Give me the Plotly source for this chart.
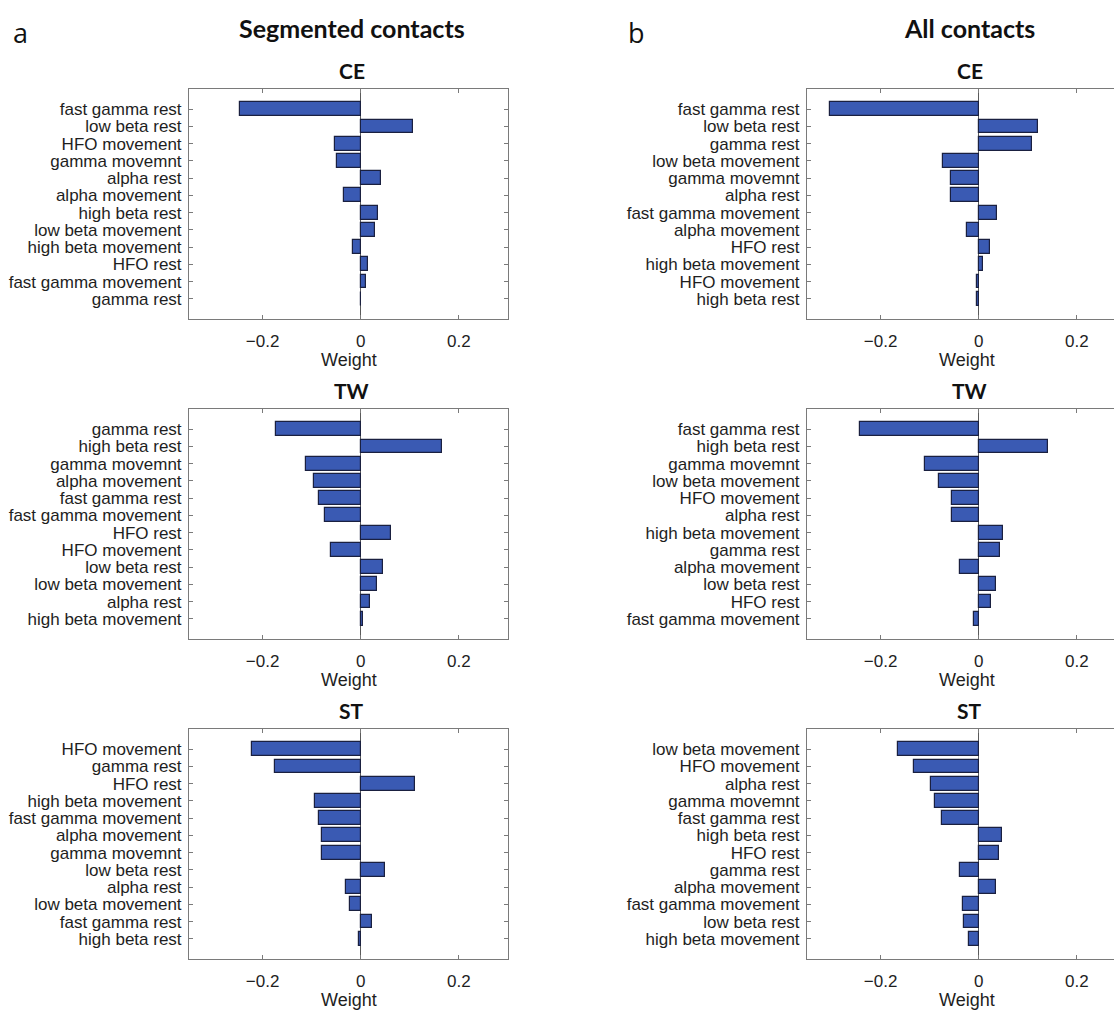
import plotly.graph_objects as go

# ---------------- data ----------------
seg_ce_labels = ["fast gamma rest", "low beta rest", "HFO movement", "gamma movemnt",
                 "alpha rest", "alpha movement", "high beta rest", "low beta movement",
                 "high beta movement", "HFO rest", "fast gamma movement", "gamma rest"]
seg_ce_weights = [-0.246, 0.107, -0.052, -0.048, 0.042, -0.034, 0.035, 0.030,
                  -0.015, 0.014, 0.010, 0.001]

seg_tw_labels = ["gamma rest", "high beta rest", "gamma movemnt", "alpha movement",
                 "fast gamma rest", "fast gamma movement", "HFO rest", "HFO movement",
                 "low beta rest", "low beta movement", "alpha rest", "high beta movement"]
seg_tw_weights = [-0.172, 0.165, -0.112, -0.096, -0.086, -0.072, 0.061, -0.061,
                  0.045, 0.033, 0.018, 0.004]

seg_st_labels = ["HFO movement", "gamma rest", "HFO rest", "high beta movement",
                 "fast gamma movement", "alpha movement", "gamma movemnt", "low beta rest",
                 "alpha rest", "low beta movement", "fast gamma rest", "high beta rest"]
seg_st_weights = [-0.221, -0.175, 0.110, -0.094, -0.086, -0.080, -0.078, 0.050,
                  -0.031, -0.022, 0.022, -0.003]

all_ce_labels = ["fast gamma rest", "low beta rest", "gamma rest", "low beta movement",
                 "gamma movemnt", "alpha rest", "fast gamma movement", "alpha movement",
                 "HFO rest", "high beta movement", "HFO movement", "high beta rest"]
all_ce_weights = [-0.303, 0.120, 0.109, -0.073, -0.057, -0.056, 0.037, -0.023,
                  0.022, 0.009, -0.004, -0.003]

all_tw_labels = ["fast gamma rest", "high beta rest", "gamma movemnt", "low beta movement",
                 "HFO movement", "alpha rest", "high beta movement", "gamma rest",
                 "alpha movement", "low beta rest", "HFO rest", "fast gamma movement"]
all_tw_weights = [-0.241, 0.141, -0.110, -0.082, -0.055, -0.054, 0.050, 0.043,
                  -0.038, 0.035, 0.025, -0.009]

all_st_labels = ["low beta movement", "HFO movement", "alpha rest", "gamma movemnt",
                 "fast gamma rest", "high beta rest", "HFO rest", "gamma rest",
                 "alpha movement", "fast gamma movement", "low beta rest", "high beta movement"]
all_st_weights = [-0.165, -0.133, -0.097, -0.090, -0.075, 0.047, 0.041, -0.038,
                  0.036, -0.033, -0.031, -0.019]

x_tick_values = [-0.2, 0, 0.2]
x_tick_labels = ["\u22120.2", "0", "0.2"]
panel_titles = ["CE", "TW", "ST"]
column_titles = ["Segmented contacts", "All contacts"]
column_letters = ["a", "b"]
x_axis_title = "Weight"

# ---------------- layout geometry (pixels) ----------------
W, H = 1130, 1012
col_left = [189, 807]
col_right = [508, 1126]
row_top = [89, 409, 729]
box_h = 230

BAR_FILL = "#3A5AB3"
BAR_EDGE = "#1A2040"
AXIS_COL = "#7a7a7a"
TEXT_COL = "#1e1e1e"
TICK_FONT = dict(family="Liberation Sans, Arial, sans-serif", size=17, color=TEXT_COL)
TITLE_FAMILY = "Lato, Open Sans, sans-serif"

panels = [
    (0, 0, seg_ce_labels, seg_ce_weights),
    (0, 1, seg_tw_labels, seg_tw_weights),
    (0, 2, seg_st_labels, seg_st_weights),
    (1, 0, all_ce_labels, all_ce_weights),
    (1, 1, all_tw_labels, all_tw_weights),
    (1, 2, all_st_labels, all_st_weights),
]

fig = go.Figure()
annotations = []
layout_axes = {}

for i, (col, row, labels, weights) in enumerate(panels, start=1):
    xa = "x" if i == 1 else f"x{i}"
    ya = "y" if i == 1 else f"y{i}"
    positions = list(range(1, len(labels) + 1))
    fig.add_trace(go.Bar(
        x=weights, y=positions, orientation="h", width=0.8,
        marker=dict(color=BAR_FILL, line=dict(color=BAR_EDGE, width=1.2)),
        xaxis=xa, yaxis=ya, showlegend=False,
        customdata=labels, hovertemplate="%{customdata}: %{x}<extra></extra>",
    ))
    top = row_top[row]
    bottom = top + box_h
    xdom = [col_left[col] / W, col_right[col] / W]
    ydom = [1 - bottom / H, 1 - top / H]
    layout_axes["xaxis" if i == 1 else f"xaxis{i}"] = dict(
        domain=xdom, anchor=ya, range=[-0.35, 0.3],
        tickmode="array", tickvals=x_tick_values, ticktext=x_tick_labels,
        ticks="inside", ticklen=4, tickwidth=1, tickcolor=AXIS_COL,
        showline=True, linecolor=AXIS_COL, linewidth=1, mirror="ticks",
        zeroline=True, zerolinecolor="#5a5a5a", zerolinewidth=1,
        showgrid=False, tickfont=TICK_FONT, ticklabelstandoff=7,
        fixedrange=True,
    )
    layout_axes["yaxis" if i == 1 else f"yaxis{i}"] = dict(
        domain=ydom, anchor=xa, range=[len(labels) + 1.17, -0.17],
        tickmode="array", tickvals=positions, ticktext=labels,
        ticks="inside", ticklen=4, tickwidth=1, tickcolor=AXIS_COL,
        showline=True, linecolor=AXIS_COL, linewidth=1, mirror="ticks",
        zeroline=False, showgrid=False, tickfont=TICK_FONT, ticklabelstandoff=3,
        fixedrange=True,
    )
    cx = (col_left[col] + col_right[col]) / 2
    # panel title
    annotations.append(dict(
        text=f"<b>{panel_titles[row]}</b>", x=(cx + 3) / W, y=1 - (top - 19) / H,
        xref="paper", yref="paper", xanchor="center", yanchor="middle",
        showarrow=False, font=dict(family=TITLE_FAMILY, size=21, color="#111"),
    ))
    # x axis title
    annotations.append(dict(
        text=x_axis_title, x=cx / W, y=1 - (bottom + 41) / H,
        xref="paper", yref="paper", xanchor="center", yanchor="middle",
        showarrow=False, font=dict(family="Liberation Sans, Arial, sans-serif", size=18, color=TEXT_COL),
    ))

for col in range(2):
    cx = (col_left[col] + col_right[col]) / 2 + 3
    annotations.append(dict(
        text=f"<b>{column_titles[col]}</b>", x=cx / W, y=1 - 28 / H,
        xref="paper", yref="paper", xanchor="center", yanchor="middle",
        showarrow=False, font=dict(family=TITLE_FAMILY, size=25, color="#111"),
    ))
letter_x = [20, 636]
for col in range(2):
    annotations.append(dict(
        text=column_letters[col], x=letter_x[col] / W, y=1 - 32 / H,
        xref="paper", yref="paper", xanchor="center", yanchor="middle",
        showarrow=False, font=dict(family="Open Sans, sans-serif", size=27, color="#111"),
    ))

fig.update_layout(
    width=W, height=H,
    margin=dict(l=0, r=0, t=0, b=0),
    paper_bgcolor="white", plot_bgcolor="white",
    annotations=annotations,
    bargap=0,
    **layout_axes,
)

fig.write_html(
    "out.html",
    config={"displayModeBar": False},
    post_script="document.body.style.margin='0';document.body.style.overflow='hidden';document.documentElement.style.overflow='hidden';",
)
